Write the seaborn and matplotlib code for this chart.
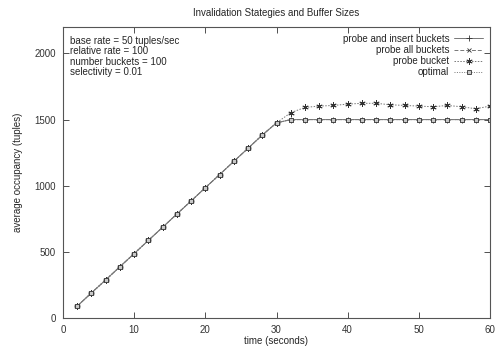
import matplotlib
matplotlib.use("Agg")
import matplotlib.pyplot as plt
import seaborn as sns
import pandas as pd

time = [2, 4, 6, 8, 10, 12, 14, 16, 18, 20, 22, 24, 26, 28, 30,
        32, 34, 36, 38, 40, 42, 44, 46, 48, 50, 52, 54, 56, 58, 60]
ramp = [90, 190, 288, 388, 487, 587, 686, 786, 885, 985, 1084, 1184, 1283, 1383, 1475]
plateau = [1500, 1500, 1500, 1500, 1500, 1500, 1500, 1500, 1500, 1500, 1500, 1500, 1500, 1500, 1500]
upper = [1552, 1592, 1602, 1607, 1617, 1623, 1623, 1612, 1607, 1602, 1597, 1607, 1597, 1582, 1602]

probe_insert = ramp + plateau
probe_all = ramp + plateau
probe_bucket = ramp + upper
optimal = ramp + plateau

labels = ["probe and insert buckets", "probe all buckets", "probe bucket", "optimal"]
series = [probe_insert, probe_all, probe_bucket, optimal]

sns.set_style("ticks")
plt.rcParams['font.family'] = ['Liberation Sans', 'DejaVu Sans']

fig = plt.figure(figsize=(4.98, 3.47), dpi=100)
ax = fig.add_axes([63/498, 29/347, 427/498, 291/347])

styles = [
    dict(linestyle="-", marker="+", markersize=5, markerfacecolor="none"),
    dict(linestyle=(0, (4, 2)), marker="x", markersize=3.5, markerfacecolor="none"),
    dict(linestyle=(0, (1.5, 1.5)), marker=(6, 2, 0), markersize=4.5, markerfacecolor="none"),
    dict(linestyle=(0, (1, 1.5)), marker="s", markersize=3.5, markerfacecolor="#c8c8c8"),
]
for lab, vals, st in zip(labels, series, styles):
    df = pd.DataFrame({"time": time, "occ": vals})
    sns.lineplot(data=df, x="time", y="occ", ax=ax, label=lab, color="#777777",
                 linewidth=0.7, markeredgecolor="#333333", markeredgewidth=0.6, **st)

ax.set_xlim(0, 60)
ax.set_ylim(0, 2200)
ax.set_xticks([0, 10, 20, 30, 40, 50, 60])
ax.set_yticks([0, 500, 1000, 1500, 2000])
ax.tick_params(direction="in", length=4, width=0.6, labelsize=7, colors="#333333",
               top=True, right=True, pad=5)
for sp in ax.spines.values():
    sp.set_linewidth(0.8)
    sp.set_color("#555555")

ax.set_xlabel("time (seconds)", fontsize=7, labelpad=1)
ax.set_ylabel("average occupancy (tuples)", fontsize=7, labelpad=8)
fig.text(276/498, 1 - 13/347, "Invalidation Stategies and Buffer Sizes", ha="center", va="center", fontsize=7)

ax.text(0.016, 0.97, "base rate = 50 tuples/sec\nrelative rate = 100\nnumber buckets = 100\nselectivity = 0.01",
        transform=ax.transAxes, ha="left", va="top", fontsize=7, linespacing=1.07)

leg = ax.legend(loc="upper right", frameon=False, fontsize=7, markerfirst=False,
                handlelength=3.0, labelspacing=0.12, borderaxespad=0.3, handletextpad=0.5)
for t in leg.get_texts():
    t.set_ha("right")
leg._legend_box.align = "right"

fig.savefig("out.png", dpi=100)
